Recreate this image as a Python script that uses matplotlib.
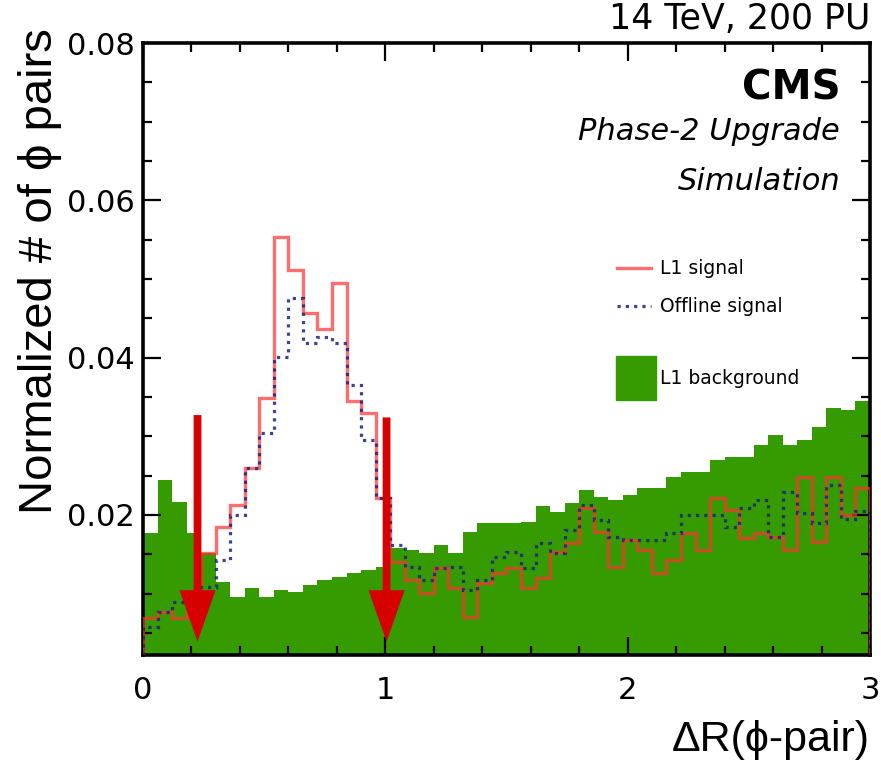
import numpy as np
import matplotlib
matplotlib.use("Agg")
import matplotlib.pyplot as plt
from matplotlib.patches import FancyArrowPatch, Rectangle
from matplotlib.lines import Line2D
from matplotlib.ticker import MultipleLocator

plt.rcParams['font.family'] = ['Liberation Sans', 'DejaVu Sans']
WIDE = ['DejaVu Sans']

# ---- data (50 bins of width 0.06 over 0..3) ----
bin_edges = np.linspace(0.0, 3.0, 51)

l1_background = [
    0.0177, 0.0244, 0.0217, 0.0177, 0.0152, 0.0115, 0.0096, 0.0107, 0.0096, 0.0105,
    0.0102, 0.0111, 0.0117, 0.0121, 0.0126, 0.0130, 0.0134, 0.0158, 0.0156, 0.0152,
    0.0162, 0.0152, 0.0178, 0.0190, 0.0190, 0.0190, 0.0191, 0.0211, 0.0204, 0.0215,
    0.0232, 0.0223, 0.0219, 0.0225, 0.0234, 0.0234, 0.0248, 0.0255, 0.0255, 0.0270,
    0.0274, 0.0274, 0.0289, 0.0302, 0.0289, 0.0295, 0.0312, 0.0336, 0.0333, 0.0345]

l1_signal = [
    0.0069, 0.0077, 0.0069, 0.0090, 0.0152, 0.0185, 0.0213, 0.0260, 0.0349, 0.0553,
    0.0511, 0.0457, 0.0436, 0.0495, 0.0345, 0.0330, 0.0222, 0.0140, 0.0117, 0.0101,
    0.0133, 0.0107, 0.0070, 0.0114, 0.0126, 0.0133, 0.0107, 0.0120, 0.0153, 0.0164,
    0.0209, 0.0178, 0.0134, 0.0168, 0.0156, 0.0126, 0.0143, 0.0177, 0.0156, 0.0222,
    0.0206, 0.0171, 0.0177, 0.0172, 0.0156, 0.0248, 0.0166, 0.0248, 0.0200, 0.0234]

offline_signal = [
    0.0058, 0.0077, 0.0089, 0.0100, 0.0109, 0.0143, 0.0200, 0.0260, 0.0304, 0.0401,
    0.0476, 0.0418, 0.0426, 0.0418, 0.0365, 0.0295, 0.0222, 0.0162, 0.0134, 0.0117,
    0.0133, 0.0134, 0.0105, 0.0117, 0.0147, 0.0153, 0.0133, 0.0164, 0.0152, 0.0181,
    0.0213, 0.0194, 0.0172, 0.0168, 0.0168, 0.0168, 0.0177, 0.0200, 0.0200, 0.0200,
    0.0185, 0.0209, 0.0219, 0.0172, 0.0229, 0.0203, 0.0190, 0.0238, 0.0195, 0.0205]

arrow_x = [0.225, 1.005]
arrow_top = [0.0327, 0.0324]
arrow_tip = 0.0039

x_ticks = [0, 1, 2, 3]
y_ticks = [0.02, 0.04, 0.06, 0.08]
y_ticklabels = ['0.02', '0.04', '0.06', '0.08']

green = '#359b00'
red = '#ff3030'
navy = '#1a237e'
red_alpha = 0.7

fig = plt.figure(figsize=(8.81, 7.63), dpi=100)
ax = fig.add_axes([143/881, 108/763, 727/881, 612/763])

ax.stairs(l1_background, bin_edges, fill=True, color=green, zorder=1)
ax.stairs(l1_signal, bin_edges, color=red, alpha=red_alpha, lw=2.4, zorder=3)
ax.stairs(offline_signal, bin_edges, color=navy, alpha=0.85, lw=2.3,
          linestyle=(0, (1, 1.6)), zorder=4)

ax.set_xlim(0, 3)
ax.set_ylim(0.0022, 0.08)

ax.set_xticks(x_ticks)
ax.set_xticklabels([str(t) for t in x_ticks], family=WIDE, fontsize=22)
ax.set_yticks(y_ticks)
ax.set_yticklabels(y_ticklabels, family=WIDE, fontsize=22)
ax.xaxis.set_minor_locator(MultipleLocator(0.2))
ax.yaxis.set_minor_locator(MultipleLocator(0.005))
ax.tick_params(which='both', direction='in', top=True, right=True, width=1.6,
               colors='black')
ax.tick_params(which='major', length=13)
ax.tick_params(which='minor', length=6.5)
ax.tick_params(axis='x', which='major', pad=15)
ax.tick_params(axis='y', which='major', pad=6)
for s in ax.spines.values():
    s.set_linewidth(2.6)

# arrows
for xa, ya in zip(arrow_x, arrow_top):
    arr = FancyArrowPatch((xa, ya), (xa, arrow_tip),
                          arrowstyle='simple,head_width=26,head_length=37,tail_width=5.6',
                          mutation_scale=1, color='#d60000', lw=0, shrinkA=0, shrinkB=0,
                          zorder=6)
    ax.add_patch(arr)

# axis titles
ax.text(-0.142, 1.025, 'Normalized # of \u03d5 pairs', transform=ax.transAxes,
        rotation=90, ha='center', va='top', fontsize=34)
ax.text(1.0, -0.139, '\u0394R(\u03d5-pair)', transform=ax.transAxes,
        ha='right', va='center', fontsize=31)

# header texts
ax.text(1.0, 1.012, '14 TeV, 200 PU', transform=ax.transAxes, ha='right', va='bottom',
        fontsize=25, family=WIDE)
ax.text(0.959, 0.907, 'CMS', transform=ax.transAxes, ha='right', va='baseline',
        fontsize=29, fontweight='bold', family=WIDE)
ax.text(0.959, 0.8415, 'Phase-2 Upgrade', transform=ax.transAxes, ha='right', va='baseline',
        fontsize=22, style='italic', family=WIDE)
ax.text(0.959, 0.760, 'Simulation', transform=ax.transAxes, ha='right', va='baseline',
        fontsize=22, style='italic', family=WIDE)

# manual legend
def ax_xy(px, py):
    return ((px - 143) / 727, (655 - py) / 612)

x0, y0 = ax_xy(617, 268)
x1, _ = ax_xy(651, 268)
ax.add_line(Line2D([x0, x1], [y0, y0], transform=ax.transAxes, color=red, alpha=red_alpha,
                   lw=2.4, zorder=5))
x0, y1 = ax_xy(617, 306)
ax.add_line(Line2D([x0, x1], [y1, y1], transform=ax.transAxes, color=navy, alpha=0.85, lw=2.3,
                   linestyle=(0, (1, 1.6)), zorder=5))
bx, by = ax_xy(616, 400)
bw = 40 / 727
bh = 44 / 612
ax.add_patch(Rectangle((bx, by), bw, bh, transform=ax.transAxes, color=green, zorder=5))
tx, _ = ax_xy(660, 0)
for py, lab in [(268, 'L1 signal'), (306, 'Offline signal'), (378, 'L1 background')]:
    ax.text(tx, ax_xy(0, py)[1], lab, transform=ax.transAxes, ha='left', va='center',
            fontsize=13.5, family=WIDE)

fig.savefig('out.png', dpi=100)
